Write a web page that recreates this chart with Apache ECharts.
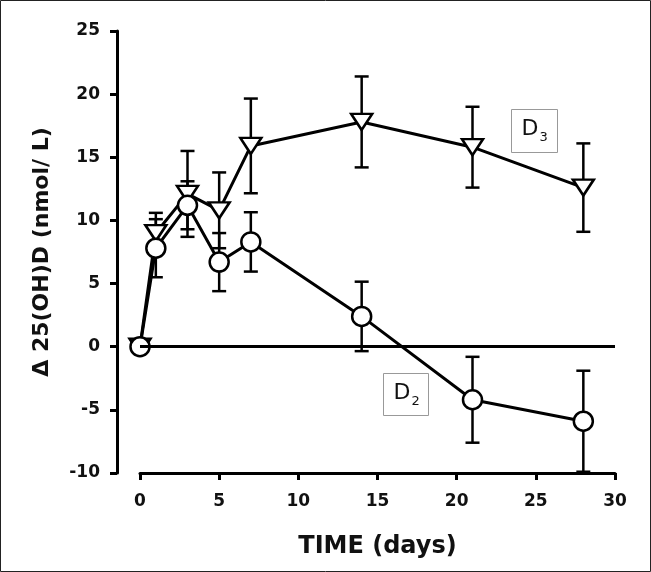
<!DOCTYPE html>
<html>
<head>
<meta charset="utf-8">
<script src="https://cdn.jsdelivr.net/npm/echarts@6/dist/echarts.min.js"></script>
<style>
  html, body { margin: 0; padding: 0; background: #fff; }
  #chart { width: 651px; height: 572px; }
</style>
</head>
<body>
<div id="chart"></div>
<script>
// time points (days)
var days = [0, 1, 3, 5, 7, 14, 21, 28];

// change in 25(OH)D, nmol/L
var d3Mean = [0, 9.0, 12.1, 10.8, 15.9, 17.8, 15.8, 12.6];
var d3Err  = [0, 1.6, 3.4, 3.0, 3.75, 3.6, 3.2, 3.5];
var d2Mean = [0, 7.8, 11.2, 6.7, 8.3, 2.4, -4.2, -5.9];
var d2Err  = [0, 2.3, 1.9, 2.3, 2.35, 2.75, 3.4, 4.0];

var FONT = 'DejaVu Sans';

function pairs(means) {
  return days.map(function (d, i) { return [d, means[i]]; });
}
function errRows(means, errs) {
  var rows = [];
  for (var i = 0; i < days.length; i++) {
    if (errs[i] > 0) rows.push([days[i], means[i] - errs[i], means[i] + errs[i]]);
  }
  return rows;
}

// error bar with caps
function renderErr(params, api) {
  var x = api.value(0);
  var top = api.coord([x, api.value(2)]);
  var bot = api.coord([x, api.value(1)]);
  var half = 7;
  var st = { stroke: '#000', lineWidth: 2.5 };
  return {
    type: 'group',
    children: [
      { type: 'line', shape: { x1: top[0], y1: top[1], x2: bot[0], y2: bot[1] }, style: st },
      { type: 'line', shape: { x1: top[0] - half, y1: top[1], x2: top[0] + half, y2: top[1] }, style: st },
      { type: 'line', shape: { x1: bot[0] - half, y1: bot[1], x2: bot[0] + half, y2: bot[1] }, style: st }
    ]
  };
}

var chart = echarts.init(document.getElementById('chart'));

var option = {
  animation: false,
  backgroundColor: '#fff',
  grid: { left: 140, right: 36, top: 31, bottom: 99 },
  xAxis: {
    type: 'value',
    min: 0, max: 30, interval: 5,
    name: 'TIME (days)',
    nameLocation: 'middle',
    nameGap: 62,
    nameTextStyle: { fontFamily: FONT, fontWeight: 'bold', fontSize: 24, color: '#111' },
    axisLine: { show: true, onZero: false, lineStyle: { color: '#000', width: 3 } },
    axisTick: { show: true, inside: false, length: 7, lineStyle: { color: '#000', width: 3 } },
    axisLabel: { margin: 20, fontFamily: FONT, fontWeight: 'bold', fontSize: 17, color: '#111' },
    splitLine: { show: false }
  },
  yAxis: {
    type: 'value',
    min: -10, max: 25, interval: 5,
    offset: 23,
    name: '\u0394 25(OH)D (nmol/ L)',
    nameLocation: 'middle',
    nameGap: 64,
    nameTextStyle: { fontFamily: FONT, fontWeight: 'bold', fontSize: 22, color: '#111' },
    axisLine: { show: true, onZero: false, lineStyle: { color: '#000', width: 3 } },
    axisTick: { show: true, inside: false, length: 7, lineStyle: { color: '#000', width: 3 } },
    axisLabel: { margin: 17, fontFamily: FONT, fontWeight: 'bold', fontSize: 17, color: '#111' },
    splitLine: { show: false }
  },
  series: [
    {
      type: 'custom',
      name: 'D3 err',
      z: 1,
      renderItem: renderErr,
      encode: { x: 0, y: [1, 2] },
      data: errRows(d3Mean, d3Err)
    },
    {
      type: 'custom',
      name: 'D2 err',
      z: 1,
      renderItem: renderErr,
      encode: { x: 0, y: [1, 2] },
      data: errRows(d2Mean, d2Err)
    },
    {
      type: 'line',
      name: 'D3',
      z: 3,
      data: pairs(d3Mean),
      symbol: 'triangle',
      symbolRotate: 180,
      symbolSize: [21, 16],
      showAllSymbol: true,
      lineStyle: { color: '#000', width: 3 },
      itemStyle: { color: '#fff', borderColor: '#000', borderWidth: 2.5 },
      markLine: {
        silent: true,
        symbol: 'none',
        label: { show: false },
        lineStyle: { color: '#000', width: 3, type: 'solid' },
        data: [{ yAxis: 0 }]
      }
    },
    {
      type: 'line',
      name: 'D2',
      z: 4,
      data: pairs(d2Mean),
      symbol: 'circle',
      symbolSize: 19,
      showAllSymbol: true,
      lineStyle: { color: '#000', width: 3 },
      itemStyle: { color: '#fff', borderColor: '#000', borderWidth: 2.5 }
    }
  ],
  graphic: [
    // outer frame of the figure
    {
      type: 'rect',
      shape: { x: 0.5, y: 0.5, width: 650, height: 571 },
      style: { fill: 'none', stroke: '#222', lineWidth: 1 },
      silent: true
    },
    // D3 label box
    {
      type: 'group', left: 511, top: 109,
      children: [
        { type: 'rect', shape: { x: 0, y: 0, width: 46, height: 43 }, style: { fill: '#fff', stroke: '#999', lineWidth: 1 } },
        { type: 'text', x: 10, y: 9, style: { text: 'D', font: '22px "' + FONT + '"', fill: '#111' } },
        { type: 'text', x: 28, y: 22, style: { text: '3', font: '13px "' + FONT + '"', fill: '#111' } }
      ]
    },
    // D2 label box
    {
      type: 'group', left: 383, top: 373,
      children: [
        { type: 'rect', shape: { x: 0, y: 0, width: 45, height: 42 }, style: { fill: '#fff', stroke: '#999', lineWidth: 1 } },
        { type: 'text', x: 10, y: 9, style: { text: 'D', font: '22px "' + FONT + '"', fill: '#111' } },
        { type: 'text', x: 28, y: 22, style: { text: '2', font: '13px "' + FONT + '"', fill: '#111' } }
      ]
    }
  ]
};

chart.setOption(option);
</script>
</body>
</html>
